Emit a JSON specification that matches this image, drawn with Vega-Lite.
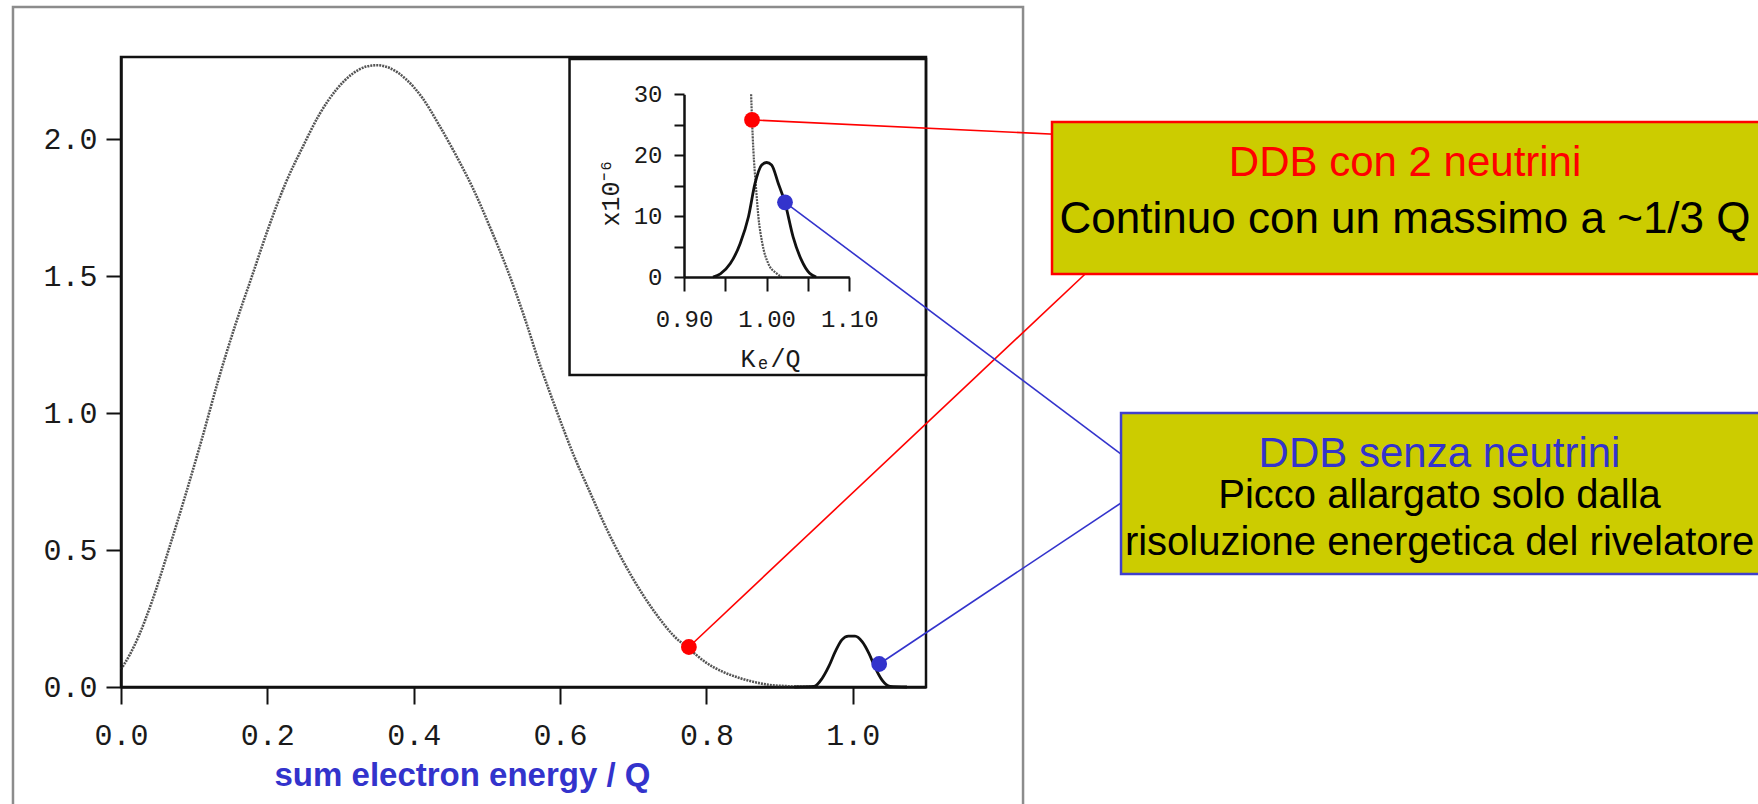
{
  "$schema": "https://vega.github.io/schema/vega-lite/v6.json",
  "width": 1758,
  "height": 804,
  "autosize": "none",
  "padding": 0,
  "background": "white",
  "config": {
    "view": {"stroke": null},
    "axis": {
      "grid": false,
      "labelFont": "Liberation Mono",
      "labelColor": "#1a1a1a",
      "titleFont": "Liberation Mono",
      "titleColor": "#1a1a1a",
      "titleFontWeight": "normal",
      "domainColor": "#111111",
      "tickColor": "#111111",
      "labelFlush": false,
      "labelOverlap": false,
      "zindex": 1
    }
  },
  "datasets": {
    "main2nu": [
      {"x": 0, "y": 0.065}, {"x": 0.012, "y": 0.118}, {"x": 0.024, "y": 0.185}, {"x": 0.042, "y": 0.31},
      {"x": 0.065, "y": 0.50}, {"x": 0.088, "y": 0.70}, {"x": 0.111, "y": 0.91}, {"x": 0.134, "y": 1.13},
      {"x": 0.156, "y": 1.32}, {"x": 0.179, "y": 1.50}, {"x": 0.202, "y": 1.68}, {"x": 0.225, "y": 1.84},
      {"x": 0.248, "y": 1.97}, {"x": 0.271, "y": 2.09}, {"x": 0.294, "y": 2.18}, {"x": 0.317, "y": 2.24},
      {"x": 0.335, "y": 2.265}, {"x": 0.350, "y": 2.27}, {"x": 0.367, "y": 2.26}, {"x": 0.389, "y": 2.22},
      {"x": 0.412, "y": 2.15}, {"x": 0.435, "y": 2.05}, {"x": 0.458, "y": 1.94}, {"x": 0.481, "y": 1.82},
      {"x": 0.504, "y": 1.68}, {"x": 0.527, "y": 1.53}, {"x": 0.550, "y": 1.36}, {"x": 0.572, "y": 1.18},
      {"x": 0.595, "y": 1.01}, {"x": 0.618, "y": 0.85}, {"x": 0.641, "y": 0.71}, {"x": 0.664, "y": 0.575},
      {"x": 0.687, "y": 0.455}, {"x": 0.710, "y": 0.35}, {"x": 0.733, "y": 0.26}, {"x": 0.756, "y": 0.185},
      {"x": 0.776, "y": 0.14}, {"x": 0.799, "y": 0.09}, {"x": 0.822, "y": 0.056}, {"x": 0.844, "y": 0.034},
      {"x": 0.867, "y": 0.017}, {"x": 0.885, "y": 0.008}, {"x": 0.910, "y": 0.003}, {"x": 0.940, "y": 0.0005},
      {"x": 0.955, "y": 0}
    ],
    "main0nu": [
      {"x": 0.92, "y": 0}, {"x": 0.947, "y": 0.002}, {"x": 0.958, "y": 0.031}, {"x": 0.967, "y": 0.074},
      {"x": 0.976, "y": 0.129}, {"x": 0.985, "y": 0.172}, {"x": 0.994, "y": 0.186}, {"x": 1.003, "y": 0.186},
      {"x": 1.013, "y": 0.165}, {"x": 1.022, "y": 0.123}, {"x": 1.031, "y": 0.068}, {"x": 1.040, "y": 0.025},
      {"x": 1.051, "y": 0.002}, {"x": 1.074, "y": 0}
    ],
    "inset2nu": [
      {"x": 0.9812, "y": 30}, {"x": 0.9823, "y": 25.8}, {"x": 0.9839, "y": 20.9}, {"x": 0.9855, "y": 17.5},
      {"x": 0.9867, "y": 15.4}, {"x": 0.990, "y": 9.9}, {"x": 0.9948, "y": 5.5}, {"x": 1.002, "y": 2.2},
      {"x": 1.012, "y": 0.6}, {"x": 1.018, "y": 0}
    ],
    "inset0nu": [
      {"x": 0.935, "y": 0}, {"x": 0.944, "y": 0.5}, {"x": 0.956, "y": 2.2}, {"x": 0.968, "y": 5.5},
      {"x": 0.978, "y": 9.9}, {"x": 0.986, "y": 15.4}, {"x": 0.994, "y": 18.4}, {"x": 1.0, "y": 18.8},
      {"x": 1.006, "y": 18.4}, {"x": 1.014, "y": 15.4}, {"x": 1.022, "y": 12.3}, {"x": 1.032, "y": 6.6},
      {"x": 1.042, "y": 2.8}, {"x": 1.052, "y": 0.6}, {"x": 1.060, "y": 0}
    ]
  },
  "layer": [
    {
      "encoding": {
        "x": {
          "field": "x", "type": "quantitative",
          "scale": {"domain": [0, 1.1], "range": [121, 926], "nice": false, "zero": false},
          "axis": {
            "orient": "bottom", "offset": -117, "zindex": 1,
            "values": [0, 0.2, 0.4, 0.6, 0.8, 1.0], "format": ".1f",
            "labelFontSize": 30, "labelBaseline": "middle", "labelPadding": 31,
            "tickSize": 17, "tickWidth": 2, "domainWidth": 2.5,
            "title": "sum electron energy / Q",
            "titleFont": "Liberation Sans", "titleFontWeight": "bold", "titleFontSize": 33,
            "titleColor": "#3333cc", "titleX": 462, "titleY": 98,
            "titleAlign": "center", "titleBaseline": "alphabetic"
          }
        },
        "y": {
          "field": "y", "type": "quantitative",
          "scale": {"domain": [0, 2.3], "range": [687, 57], "nice": false, "zero": false},
          "axis": {
            "orient": "left", "offset": -121, "zindex": 1,
            "values": [0, 0.5, 1.0, 1.5, 2.0], "format": ".1f",
            "labelFontSize": 30, "labelBaseline": "middle", "labelPadding": 9,
            "tickSize": 15, "tickWidth": 2, "domainWidth": 2.5,
            "title": null
          }
        }
      },
      "layer": [
        {
          "data": {"values": [{"x": -0.1476, "x2": 1.2326, "y": 2.4826, "y2": -0.522}]},
          "mark": {"type": "rect", "fill": null, "stroke": "#8c8c8c", "strokeWidth": 2.5},
          "encoding": {"x2": {"field": "x2"}, "y2": {"field": "y2"}}
        },
        {
          "data": {"values": [{"x": 0, "x2": 1.1, "y": 0, "y2": 2.3}]},
          "mark": {"type": "rect", "fill": null, "stroke": "#111111", "strokeWidth": 2.5},
          "encoding": {"x2": {"field": "x2"}, "y2": {"field": "y2"}}
        },
        {
          "data": {"values": [{"x": 0.6129, "x2": 1.1, "y": 2.2928, "y2": 1.1391}]},
          "mark": {"type": "rect", "fill": null, "stroke": "#111111", "strokeWidth": 2.5},
          "encoding": {"x2": {"field": "x2"}, "y2": {"field": "y2"}}
        },
        {
          "data": {"name": "main2nu"},
          "mark": {"type": "line", "color": "#555555", "strokeWidth": 2.6, "strokeDash": [2, 1], "interpolate": "monotone"}
        },
        {
          "data": {"name": "main0nu"},
          "mark": {"type": "line", "color": "#111111", "strokeWidth": 2.8, "interpolate": "monotone"}
        },
        {
          "data": {"values": [
            {"grp": "2nu", "x": 0.8623, "y": 2.0705, "x2": 1.2831, "y2": 2.0172},
            {"grp": "2nu", "x": 0.776, "y": 0.146, "x2": 1.3378, "y2": 1.5589},
            {"grp": "0nu", "x": 0.9074, "y": 1.7696, "x2": 1.3788, "y2": 0.8258},
            {"grp": "0nu", "x": 1.036, "y": 0.084, "x2": 1.3788, "y2": 0.6937}
          ]},
          "mark": {"type": "rule", "strokeWidth": 1.6},
          "encoding": {
            "x2": {"field": "x2"}, "y2": {"field": "y2"},
            "color": {"field": "grp", "type": "nominal", "scale": {"domain": ["2nu", "0nu"], "range": ["#ff0000", "#3333cc"]}, "legend": null}
          }
        },
        {
          "data": {"values": [
            {"grp": "2nu", "x": 1.2722, "x2": 2.4, "y": 2.0628, "y2": 1.5078},
            {"grp": "0nu", "x": 1.3665, "x2": 2.4, "y": 1.0004, "y2": 0.4126}
          ]},
          "mark": {"type": "rect", "fill": "#cccc00", "strokeWidth": 2.5},
          "encoding": {
            "x2": {"field": "x2"}, "y2": {"field": "y2"},
            "stroke": {"field": "grp", "type": "nominal", "scale": {"domain": ["2nu", "0nu"], "range": ["#ff0000", "#4040cc"]}, "legend": null}
          }
        },
        {
          "data": {"values": [
            {"grp": "2nu", "label": "DDB con 2 neutrini", "x": 1.7546, "y": 1.9146},
            {"grp": "0nu", "label": "DDB senza neutrini", "x": 1.8017, "y": 0.8507}
          ]},
          "mark": {"type": "text", "font": "Liberation Sans", "fontSize": 42, "align": "center", "baseline": "middle"},
          "encoding": {
            "text": {"field": "label"},
            "color": {"field": "grp", "type": "nominal", "scale": {"domain": ["2nu", "0nu"], "range": ["#ff0000", "#3333cc"]}, "legend": null}
          }
        },
        {
          "data": {"values": [
            {"label": "Continuo con un massimo a ~1/3 Q", "x": 1.7546, "y": 1.7061, "sz": "big"},
            {"label": "Picco allargato solo dalla", "x": 1.8017, "y": 0.6988, "sz": "small"},
            {"label": "risoluzione energetica del rivelatore", "x": 1.8017, "y": 0.5268, "sz": "small"}
          ]},
          "mark": {"type": "text", "font": "Liberation Sans", "align": "center", "baseline": "middle", "color": "#000000"},
          "encoding": {
            "text": {"field": "label"},
            "size": {"field": "sz", "type": "nominal", "scale": {"domain": ["big", "small"], "range": [44, 40]}, "legend": null}
          }
        },
        {
          "data": {"values": [
            {"grp": "2nu", "x": 0.776, "y": 0.146},
            {"grp": "0nu", "x": 1.036, "y": 0.084}
          ]},
          "mark": {"type": "point", "filled": true, "size": 250, "opacity": 1},
          "encoding": {
            "color": {"field": "grp", "type": "nominal", "scale": {"domain": ["2nu", "0nu"], "range": ["#ff0000", "#3333cc"]}, "legend": null}
          }
        }
      ]
    },
    {
      "encoding": {
        "x": {
          "field": "x", "type": "quantitative",
          "scale": {"domain": [0.9, 1.1], "range": [684, 849.3], "nice": false, "zero": false},
          "axis": {
            "orient": "bottom", "offset": -527, "zindex": 1,
            "values": [0.9, 0.95, 1.0, 1.05, 1.1],
            "labelExpr": "datum.value == 0.95 || datum.value == 1.05 ? '' : format(datum.value, '.2f')",
            "labelFontSize": 24, "labelBaseline": "middle", "labelPadding": 28,
            "tickSize": 14, "tickWidth": 2, "domainWidth": 2.5,
            "title": "Kₑ/Q", "titleFontSize": 25, "titleX": 770, "titleY": 81,
            "titleAlign": "center", "titleBaseline": "middle"
          }
        },
        "y": {
          "field": "y", "type": "quantitative",
          "scale": {"domain": [0, 30], "range": [277, 94.3], "nice": false, "zero": false},
          "axis": {
            "orient": "left", "offset": -684, "zindex": 1,
            "values": [0, 5, 10, 15, 20, 25, 30],
            "labelExpr": "datum.value % 10 == 0 ? format(datum.value, 'd') : ''",
            "labelFontSize": 24, "labelBaseline": "middle", "labelPadding": 12,
            "tickSize": 10, "tickWidth": 2, "domainWidth": 2.5,
            "title": "x10⁻⁶", "titleFontSize": 25, "titleAngle": 270,
            "titleX": -74, "titleY": 192, "titleAlign": "center", "titleBaseline": "middle"
          }
        }
      },
      "layer": [
        {
          "data": {"name": "inset2nu"},
          "mark": {"type": "line", "color": "#555555", "strokeWidth": 2.2, "strokeDash": [2, 1], "interpolate": "monotone"}
        },
        {
          "data": {"name": "inset0nu"},
          "mark": {"type": "line", "color": "#111111", "strokeWidth": 2.8, "interpolate": "monotone"}
        },
        {
          "data": {"values": [
            {"grp": "2nu", "x": 0.9823, "y": 25.8},
            {"grp": "0nu", "x": 1.0222, "y": 12.26}
          ]},
          "mark": {"type": "point", "filled": true, "size": 250, "opacity": 1},
          "encoding": {
            "color": {"field": "grp", "type": "nominal", "scale": {"domain": ["2nu", "0nu"], "range": ["#ff0000", "#3333cc"]}, "legend": null}
          }
        }
      ]
    }
  ],
  "resolve": {
    "scale": {"x": "independent", "y": "independent", "color": "independent"},
    "axis": {"x": "independent", "y": "independent"}
  }
}
